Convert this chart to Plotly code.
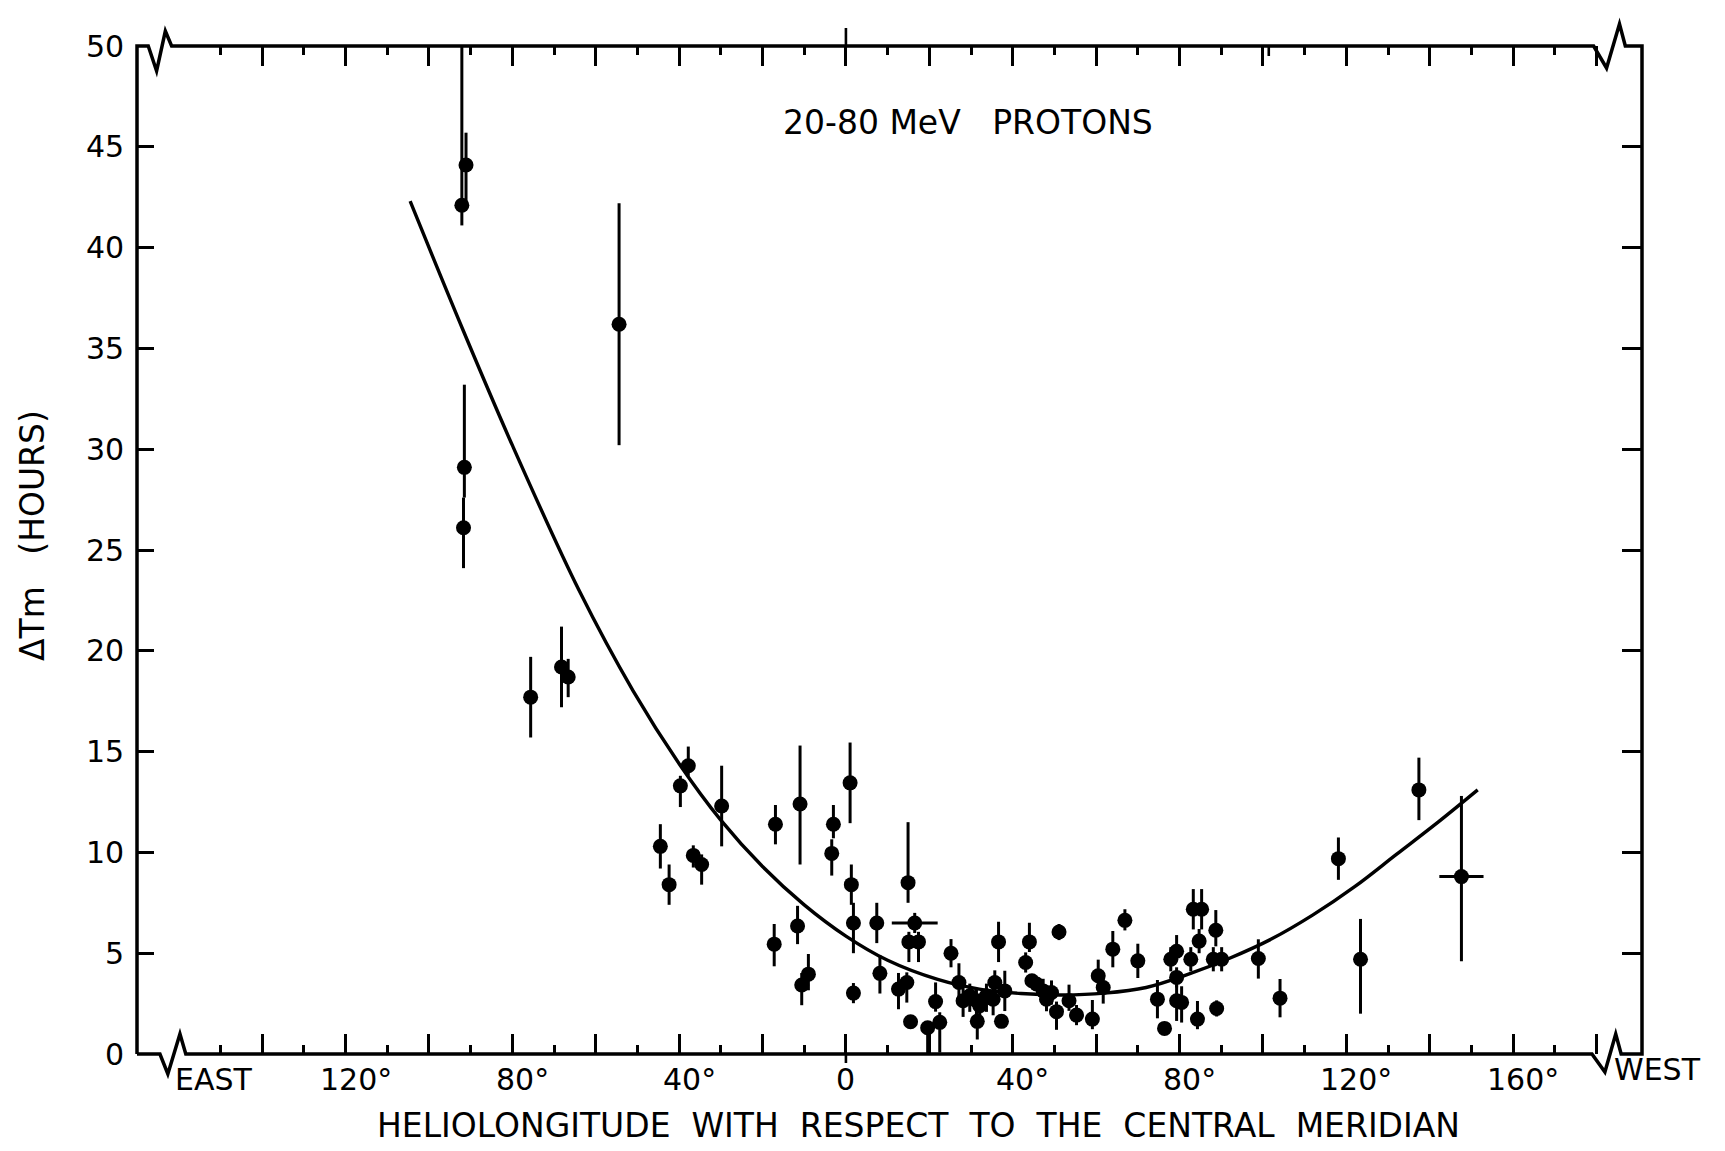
import plotly.graph_objects as go

# heliolongitude (deg, east < 0), delay time (hours) and error bars
lon = [-92.1, -91.1, -91.5, -91.7, -54.4, -75.6, -68.2, -66.6, -37.8, -39.7,
       -29.8, -44.5, -42.4, -36.6, -34.6, -16.9, -11.0, 1.0, -3.0, -3.4,
       1.3, 1.8, 14.9, 7.4, 16.5, 15.1, 17.4, -11.6, -17.2, -9.0,
       -10.6, 1.8, 8.15, 12.6, 14.6, 15.5, 19.6, 22.5, 21.5, 25.2,
       27.1, 28.1, 29.7, 31.3, 32.1, 33.7, 35.3, 35.7, 31.5, 36.6,
       38.1, 37.3, 44.0, 43.1, 44.6, 45.7, 47.3, 48.1, 49.3, 50.5,
       51.1, 53.5, 55.3, 59.1, 60.5, 61.7, 64.0, 66.9, 70.0, 74.7,
       76.4, 77.9, 79.3, 79.3, 79.3, 80.5, 82.7, 83.3, 85.3, 84.7,
       84.3, 88.7, 88.1, 90.1, 88.9, 98.9, 104.1, 118.1, 123.4, 137.4,
       147.6]
delay = [42.1, 44.1, 29.1, 26.1, 36.2, 17.7, 19.2, 18.7, 14.3, 13.3,
         12.3, 10.3, 8.4, 9.85, 9.4, 11.4, 12.4, 13.45, 11.4, 9.95,
         8.4, 6.5, 8.5, 6.5, 6.5, 5.56, 5.56, 6.35, 5.45, 3.96,
         3.42, 3.02, 4.0, 3.22, 3.55, 1.6, 1.3, 1.57, 2.6, 5.0,
         3.55, 2.64, 2.89, 2.64, 2.39, 2.89, 2.72, 3.55, 1.62, 5.56,
         3.13, 1.62, 5.56, 4.54, 3.63, 3.47, 3.13, 2.72, 3.05, 2.1,
         6.05, 2.64, 1.93, 1.73, 3.88, 3.3, 5.2, 6.63, 4.62, 2.72,
         1.27, 4.7, 5.1, 3.8, 2.64, 2.56, 4.7, 7.18, 7.18, 5.6,
         1.73, 6.14, 4.7, 4.7, 2.26, 4.74, 2.77, 9.69, 4.7, 13.1,
         8.8]
err_up = [7.9, 1.6, 4.1, 1.5, 6.0, 2.0, 2.0, 0.9, 0.95, 0.5,
          2.0, 1.1, 1.0, 0.5, 0.5, 0.95, 2.9, 2.0, 0.95, 0.7,
          1.0, 1.0, 3.0, 1.0, 0.5, 0.5, 0.5, 1.0, 1.0, 1.0,
          0.6, 0.5, 0.9, 0.8, 0.5, 0.0, 0.3, 0.5, 0.95, 0.7,
          0.95, 0.8, 0.6, 0.6, 0.6, 0.6, 0.8, 0.6, 0.5, 1.0,
          1.0, 0.0, 0.95, 0.5, 0.3, 0.3, 0.6, 0.6, 0.6, 0.5,
          0.4, 0.8, 0.5, 0.95, 0.8, 0.5, 0.9, 0.55, 0.85, 0.95,
          0.3, 0.6, 0.8, 0.5, 0.8, 0.8, 0.6, 1.0, 1.0, 0.6,
          0.9, 1.0, 0.6, 0.6, 0.4, 0.95, 0.95, 1.05, 2.0, 1.6,
          4.0]
err_down = [1.0, 2.1, 1.5, 2.0, 6.0, 2.0, 2.0, 1.0, 0.5, 1.05,
            2.0, 1.1, 1.0, 0.6, 1.0, 1.0, 3.0, 2.0, 0.7, 1.1,
            1.0, 1.5, 1.0, 1.0, 0.5, 1.0, 1.0, 0.9, 1.1, 0.8,
            1.0, 0.5, 1.0, 1.0, 1.0, 0.0, 1.3, 1.5, 0.5, 0.7,
            0.8, 0.8, 0.8, 0.8, 0.8, 0.8, 0.8, 0.6, 0.9, 1.0,
            1.0, 0.0, 0.5, 0.5, 0.3, 0.3, 0.6, 0.6, 0.6, 0.9,
            0.4, 0.5, 0.5, 0.5, 0.5, 0.8, 0.9, 0.5, 0.85, 0.95,
            0.3, 0.6, 0.5, 0.5, 1.0, 1.0, 0.6, 1.0, 1.0, 0.6,
            0.5, 0.8, 0.6, 0.6, 0.4, 1.0, 0.95, 1.05, 2.7, 1.5,
            4.2]
# horizontal (longitude) uncertainty, only two events have one
err_lon = [0.0] * len(lon)
err_lon[24] = 5.5
err_lon[90] = 5.3

# fitted curve
curve_lon = [-104.5, -92, -80, -64, -51, -40, -30, -20, -10, 0, 10, 22, 32,
             42, 52, 62, 72, 82, 92, 102, 112, 122, 132, 142, 151.5]
curve_delay = [42.3, 36.0, 30.2, 23.0, 18.0, 14.4, 11.6, 9.3, 7.4, 5.85, 4.65,
               3.7, 3.22, 3.0, 2.93, 3.02, 3.3, 3.95, 4.75, 5.7, 6.9, 8.3,
               9.9, 11.5, 13.1]

y_ticks = [0, 5, 10, 15, 20, 25, 30, 35, 40, 45, 50]
x_label_vals = [-120, -80, -40, 0, 40, 80, 120, 160]
x_label_text = ['120°', '80°', '40°', '0', '40°', '80°', '120°', '160°']
x_major = list(range(-140, 181, 20))
x_minor = list(range(-150, 171, 20))

XMIN, XMAX = -170.0, 190.9
YMAX = 50.0
PW, PH = 1505, 1008
FONT = dict(family='DejaVu Sans', size=30, color='black')
BIG = dict(family='DejaVu Sans', size=33, color='black')


def xp(v):
    return (v - XMIN) / (XMAX - XMIN)


def yp(v):
    return v / YMAX


def dy(p):
    return p / PH


fig = go.Figure()

fig.add_trace(go.Scatter(
    x=curve_lon, y=curve_delay, mode='lines',
    line=dict(color='black', width=3.4, shape='spline', smoothing=1.0),
    hoverinfo='skip', showlegend=False
))

fig.add_trace(go.Scatter(
    x=lon, y=delay, mode='markers',
    marker=dict(color='black', size=15, line=dict(width=0)),
    error_y=dict(type='data', symmetric=False, array=err_up, arrayminus=err_down,
                 thickness=3, width=0, color='black'),
    error_x=dict(type='data', array=err_lon, thickness=3, width=0, color='black'),
    showlegend=False
))

# dummy trace so the top / right tick axes are drawn
fig.add_trace(go.Scatter(x=[0], y=[25], mode='lines', xaxis='x2', yaxis='y2',
                         hoverinfo='skip', showlegend=False))

# frame with axis-break zigzags
frame = [
    (0, 0), (0, 1),
    (xp(-167.3), 1), (xp(-165.3), 1 - dy(25)), (xp(-163.2), 1 + dy(15)), (xp(-161.7), 1),
    (xp(179.3), 1), (xp(182.4), 1 - dy(22)), (xp(185.5), 1 + dy(22)), (xp(186.9), 1),
    (1, 1), (1, 0),
    (xp(185.9), 0), (xp(184.6), dy(20)), (xp(182.0), -dy(18)), (xp(178.9), 0),
    (xp(-158.3), 0), (xp(-159.7), dy(20)), (xp(-162.6), -dy(20)), (xp(-164.5), 0),
    (0, 0),
]
path = 'M ' + ' L '.join(f'{a:.5f},{b:.5f}' for a, b in frame)
shapes = [dict(type='path', path=path, xref='paper', yref='paper',
               line=dict(color='black', width=3.5))]
# crossing tick at 0 and the doubled tick near 100 deg on the top edge
shapes.append(dict(type='line', xref='paper', yref='paper', x0=xp(0), x1=xp(0),
                   y0=0, y1=-dy(9), line=dict(color='black', width=2.6)))
shapes.append(dict(type='line', xref='paper', yref='paper', x0=xp(0), x1=xp(0),
                   y0=1, y1=1 + dy(18), line=dict(color='black', width=2.6)))
shapes.append(dict(type='line', xref='paper', yref='paper', x0=xp(101.4), x1=xp(101.4),
                   y0=1, y1=1 - dy(10), line=dict(color='black', width=2.6)))

annotations = []
for v in y_ticks:
    annotations.append(dict(x=0, y=yp(v), xref='paper', yref='paper', text=str(v),
                            xanchor='right', yanchor='middle', xshift=-11,
                            showarrow=False, font=FONT))
for v, t in zip(x_label_vals, x_label_text):
    annotations.append(dict(x=xp(v), y=0, xref='paper', yref='paper', text=t,
                            xanchor='center', yanchor='middle', yshift=-25,
                            xshift=10 if '°' in t else 0,
                            showarrow=False, font=FONT))
annotations.append(dict(x=xp(-151.6), y=0, xref='paper', yref='paper', text='EAST',
                        xanchor='center', yanchor='middle', yshift=-25,
                        showarrow=False, font=FONT))
annotations.append(dict(x=xp(194.7), y=0, xref='paper', yref='paper', text='WEST',
                        xanchor='center', yanchor='middle', yshift=-15,
                        showarrow=False, font=FONT))
annotations.append(dict(x=0.519, y=-0.0714, xref='paper', yref='paper',
                        text='HELIOLONGITUDE\u00a0 WITH\u00a0 RESPECT\u00a0 TO\u00a0 THE\u00a0 CENTRAL\u00a0 MERIDIAN',
                        xanchor='center', yanchor='middle', showarrow=False, font=BIG))
annotations.append(dict(x=-0.069, y=0.514, xref='paper', yref='paper',
                        text='\u0394Tm\u00a0\u00a0 (HOURS)', textangle=-90,
                        xanchor='center', yanchor='middle', showarrow=False, font=BIG))
annotations.append(dict(x=0.552, y=0.924, xref='paper', yref='paper',
                        text='20-80 MeV\u00a0\u00a0 PROTONS',
                        xanchor='center', yanchor='middle', showarrow=False, font=BIG))

xtick_style = dict(range=[XMIN, XMAX], showgrid=False, zeroline=False, showline=False,
                   showticklabels=False, tickmode='array', tickvals=x_major,
                   ticks='inside', ticklen=20, tickwidth=2.6, tickcolor='black',
                   minor=dict(tickmode='array', tickvals=x_minor, ticks='inside',
                              ticklen=9, tickwidth=2.6, tickcolor='black', showgrid=False))
ytick_style = dict(range=[0, YMAX], showgrid=False, zeroline=False, showline=False,
                   showticklabels=False, tickmode='array', tickvals=y_ticks[1:-1],
                   ticks='inside', tickwidth=2.6, tickcolor='black')

# the page body adds an 8 px offset, so the figure is 8 px smaller on each side
fig.update_layout(
    width=1717, height=1143,
    margin=dict(l=129, r=83, t=38, b=97),
    paper_bgcolor='white', plot_bgcolor='white',
    xaxis=dict(**xtick_style),
    xaxis2=dict(**xtick_style, overlaying='x', side='top', anchor='y'),
    yaxis=dict(**ytick_style, ticklen=17),
    yaxis2=dict(**ytick_style, ticklen=20, overlaying='y', side='right', anchor='x'),
    shapes=shapes,
    annotations=annotations,
    showlegend=False
)

fig.write_html("out.html")
